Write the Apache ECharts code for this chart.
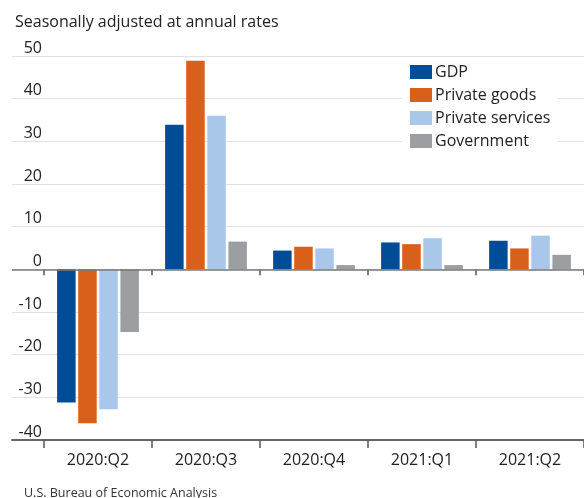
<!DOCTYPE html>
<html>
<head>
<meta charset="utf-8">
<script src="https://cdn.jsdelivr.net/npm/echarts@6/dist/echarts.min.js"></script>
<style>
html,body{margin:0;padding:0;background:#fff;}
#chart{width:584px;height:498px;}
</style>
</head>
<body>
<div id="chart"></div>
<script>
const categories = ['2020:Q2', '2020:Q3', '2020:Q4', '2021:Q1', '2021:Q2'];
const gdp = [-31.2, 33.9, 4.4, 6.3, 6.7];
const privateGoods = [-36.1, 48.9, 5.3, 5.9, 4.9];
const privateServices = [-32.8, 36.0, 4.9, 7.3, 7.9];
const government = [-14.7, 6.5, 1.0, 1.0, 3.4];
const seriesNames = ['GDP', 'Private goods', 'Private services', 'Government'];
const colors = ['#004c97', '#d9601a', '#a9c8e9', '#9c9fa1'];
const yMin = -40, yMax = 50, yStep = 10;

const FONT = 'Open Sans';
const chart = echarts.init(document.getElementById('chart'), null, {renderer: 'canvas'});
const valuesList = [gdp, privateGoods, privateServices, government];

const option = {
  animation: false,
  backgroundColor: '#fff',
  textStyle: {fontFamily: FONT},
  title: [
    {text: 'Seasonally adjusted at annual rates', left: 10, top: 9,
     textStyle: {fontFamily: FONT, fontSize: 16, fontWeight: 'normal', color: '#222'}},
    {text: 'U.S. Bureau of Economic Analysis', left: 19, top: 482,
     textStyle: {fontFamily: FONT, fontSize: 12.5, fontWeight: 'normal', color: '#333'}}
  ],
  legend: {
    data: seriesNames, orient: 'vertical', left: 402, top: 58,
    itemWidth: 22, itemHeight: 14, itemGap: 7, icon: 'rect',
    backgroundColor: '#fff', padding: [6, 7, 6, 8],
    textStyle: {fontFamily: FONT, fontSize: 16, color: '#222', padding: [0, 0, 0, -2]}
  },
  grid: [
    {left: 12, right: 0, top: 56, bottom: 58},
    {left: 44, right: -6, top: 56, bottom: 58}
  ],
  xAxis: [
    {gridIndex: 0, type: 'value', min: 0, max: 1, position: 'bottom',
     axisLine: {show: true, onZero: false, lineStyle: {color: '#666', width: 2}},
     axisTick: {show: false}, axisLabel: {show: false}, splitLine: {show: false}},
    {gridIndex: 1, type: 'category', data: categories, position: 'bottom',
     axisLine: {show: false, onZero: false},
     axisTick: {show: true, length: 8, lineStyle: {color: '#555', width: 1.5}},
     axisLabel: {margin: 12, fontFamily: FONT, fontSize: 16, color: '#222'},
     splitLine: {show: false}},
    {gridIndex: 1, type: 'category', data: categories, position: 'top',
     axisLine: {show: false, onZero: true},
     axisTick: {show: true, inside: true, length: 6, lineStyle: {color: '#555', width: 1.5}},
     axisLabel: {show: false}, splitLine: {show: false}}
  ],
  yAxis: [
    {gridIndex: 0, type: 'value', min: yMin, max: yMax, interval: yStep,
     axisLine: {show: false}, axisTick: {show: false}, axisLabel: {show: false},
     splitLine: {show: true, lineStyle: {color: '#e2e2e2', width: 1}}},
    {gridIndex: 1, type: 'value', min: yMin, max: yMax, interval: yStep,
     axisLine: {show: false}, axisTick: {show: false}, splitLine: {show: false},
     axisLabel: {margin: 2, verticalAlign: 'bottom', fontFamily: FONT, fontSize: 16, color: '#222'}}
  ],
  series: [
    {type: 'line', xAxisIndex: 0, yAxisIndex: 0, data: [], silent: true,
     markLine: {symbol: 'none', silent: true, label: {show: false},
       lineStyle: {color: '#777', width: 1.5, type: 'solid'},
       data: [{yAxis: 0}]}}
  ].concat(seriesNames.map((name, i) => ({
    name: name, type: 'bar', xAxisIndex: 1, yAxisIndex: 1,
    data: valuesList[i], barWidth: 18.5, barGap: '14%',
    itemStyle: {color: colors[i]}, z: 3
  })))
};
chart.setOption(option);
</script>
</body>
</html>
